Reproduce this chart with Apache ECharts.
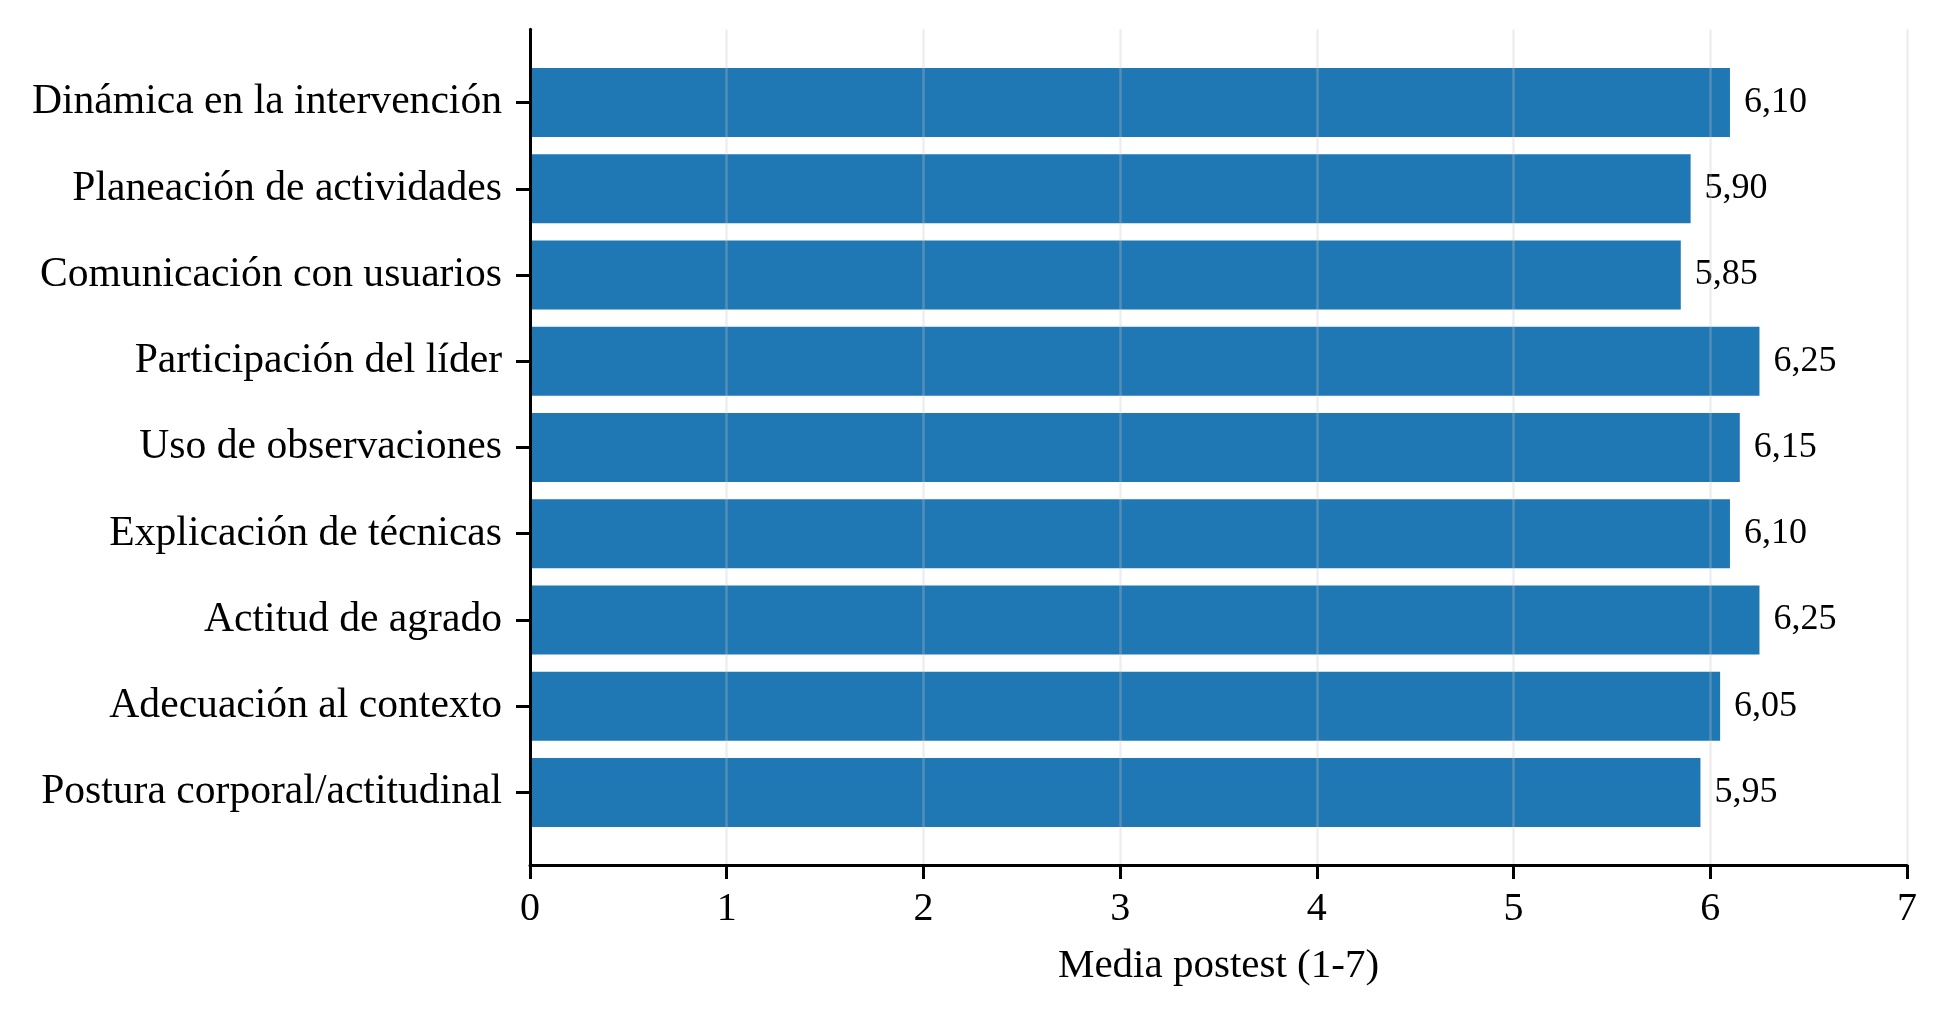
<!DOCTYPE html>
<html>
<head>
<meta charset="utf-8">
<title>Media postest</title>
<script src="https://cdn.jsdelivr.net/npm/echarts@6/dist/echarts.min.js"></script>
<style>
  html, body { margin: 0; padding: 0; background: #ffffff; }
  #main { width: 1949px; height: 1018px; }
</style>
</head>
<body>
<div id="main"></div>
<script>
// categorias de arriba hacia abajo
var categorias = [
  'Dinámica en la intervención',
  'Planeación de actividades',
  'Comunicación con usuarios',
  'Participación del líder',
  'Uso de observaciones',
  'Explicación de técnicas',
  'Actitud de agrado',
  'Adecuación al contexto',
  'Postura corporal/actitudinal'
];
var medias = [6.10, 5.90, 5.85, 6.25, 6.15, 6.10, 6.25, 6.05, 5.95];
var ticksX = [0, 1, 2, 3, 4, 5, 6, 7];

var fuente = 'Liberation Serif, Times New Roman, serif';

var chart = echarts.init(document.getElementById('main'), null, { renderer: 'canvas' });

var option = {
  backgroundColor: '#ffffff',
  animation: false,
  grid: [
    // grid de las barras (bandas de categoria)
    { left: 530, right: 42, top: 59.4, height: 776.2 },
    // grid de los ejes (spines)
    { left: 530, right: 42, top: 29.3, height: 835.7 }
  ],
  xAxis: [
    {
      gridIndex: 0,
      type: 'value',
      min: ticksX[0],
      max: ticksX[ticksX.length - 1],
      show: false
    },
    {
      gridIndex: 1,
      type: 'value',
      min: ticksX[0],
      max: ticksX[ticksX.length - 1],
      interval: 1,
      z: 5,
      axisLine: { show: true, lineStyle: { color: '#000000', width: 3 } },
      axisTick: { show: true, length: 14, lineStyle: { color: '#000000', width: 3 } },
      axisLabel: {
        color: '#000000',
        fontFamily: fuente,
        fontSize: 40,
        margin: 24
      },
      splitLine: { show: true, lineStyle: { color: 'rgba(200,200,200,0.3)', width: 2.5 } },
      name: 'Media postest (1-7)',
      nameLocation: 'middle',
      nameGap: 81,
      nameTextStyle: { color: '#000000', fontFamily: fuente, fontSize: 41 }
    }
  ],
  yAxis: [
    {
      gridIndex: 0,
      type: 'category',
      data: categorias,
      inverse: true,
      axisLine: { show: false },
      axisTick: { show: true, alignWithLabel: true, length: 14, lineStyle: { color: '#000000', width: 3 } },
      axisLabel: {
        color: '#000000',
        fontFamily: fuente,
        fontSize: 41.6,
        margin: 28,
        lineHeight: 46,
        padding: [6, 0, 0, 0]
      },
      splitLine: { show: false }
    },
    {
      gridIndex: 1,
      type: 'value',
      min: 0,
      max: 1,
      z: 5,
      axisLine: { show: true, lineStyle: { color: '#000000', width: 3 } },
      axisTick: { show: false },
      axisLabel: { show: false },
      splitLine: { show: false }
    }
  ],
  series: [
    {
      type: 'bar',
      xAxisIndex: 0,
      yAxisIndex: 0,
      data: medias,
      barCategoryGap: '20%',
      itemStyle: { color: '#1f77b4' },
      label: {
        show: true,
        position: 'right',
        distance: 14,
        padding: [2, 0, 0, 0],
        color: '#000000',
        fontFamily: fuente,
        fontSize: 36,
        formatter: function (p) {
          return p.value.toFixed(2).replace('.', ',');
        }
      }
    }
  ]
};

chart.setOption(option);

window.addEventListener('resize', function () {
  chart.resize();
});
</script>
</body>
</html>
